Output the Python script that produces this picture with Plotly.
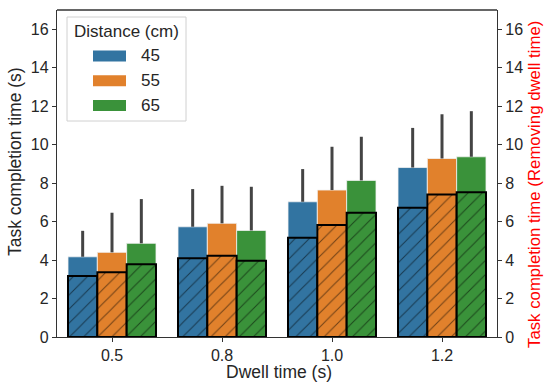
import plotly.graph_objects as go

dwell = ["0.5", "0.8", "1.0", "1.2"]
distances = ["45", "55", "65"]
colors = ["#3274a1", "#e1812c", "#3a923a"]

total_time = {
    "45": [4.17, 5.73, 7.03, 8.81],
    "55": [4.40, 5.91, 7.64, 9.28],
    "65": [4.87, 5.54, 8.14, 9.37],
}
total_err_top = {
    "45": [5.52, 7.69, 8.73, 10.87],
    "55": [6.46, 7.86, 9.89, 11.58],
    "65": [7.17, 7.81, 10.41, 11.74],
}
removed_time = {
    "45": [3.17, 4.09, 5.16, 6.72],
    "55": [3.36, 4.22, 5.82, 7.41],
    "65": [3.78, 3.96, 6.46, 7.52],
}
y_ticks = [0, 2, 4, 6, 8, 10, 12, 14, 16]

bar_w = 0.8 / 3
fig = go.Figure()
for i, d in enumerate(distances):
    off = -0.4 + i * bar_w
    fig.add_trace(go.Bar(
        x=dwell, y=total_time[d], name=d, width=bar_w, offset=off,
        marker=dict(color=colors[i], line=dict(width=0.8, color="#f2f2f2")),
        error_y=dict(type="data", symmetric=False,
                     array=[t - v for t, v in zip(total_err_top[d], total_time[d])],
                     arrayminus=[0] * len(dwell),
                     width=0, thickness=3, color="#444444"),
        showlegend=False,
    ))
for i, d in enumerate(distances):
    off = -0.4 + i * bar_w
    fig.add_trace(go.Bar(
        x=dwell, y=removed_time[d], name=d + " (removed)", width=bar_w, offset=off,
        marker=dict(color=colors[i], line=dict(width=2, color="black"),
                    pattern=dict(shape="/", fgcolor="black", bgcolor=colors[i],
                                 size=10, solidity=0.1, fillmode="overlay")),
        showlegend=False,
    ))
# invisible trace to activate right axis
fig.add_trace(go.Scatter(x=dwell, y=[None] * 4, yaxis="y2", showlegend=False, hoverinfo="skip"))

font_family = "Liberation Sans, Arial, sans-serif"
txt = "#262626"
axis_common = dict(showline=True, linecolor="#333333", linewidth=1.3, mirror=False,
                   ticks="outside", ticklen=4, tickwidth=1.2, tickcolor="#333333",
                   showgrid=False, zeroline=False,
                   tickfont=dict(size=16, color=txt, family=font_family))

fig.update_layout(
    width=550, height=387,
    margin=dict(l=57, r=53, t=10, b=50),
    plot_bgcolor="white", paper_bgcolor="white",
    barmode="overlay",
    font=dict(family=font_family, color=txt),
    xaxis=dict(**axis_common, range=[-0.5, 3.5]),
    yaxis=dict(**axis_common, range=[0, 17], tickvals=y_ticks),
    yaxis2=dict(**axis_common, range=[0, 17], overlaying="y", side="right", tickvals=y_ticks),
    showlegend=False,
)
# top spine
fig.add_shape(type="line", xref="paper", yref="paper", x0=0, x1=1, y0=1, y1=1,
              line=dict(color="#333333", width=1.3))


def px_x(p):
    return (p - 57) / 440.0


def px_y(p):
    return (337 - p) / 327.0


# axis titles
fig.add_annotation(xref="paper", yref="paper", x=px_x(279), y=px_y(372), text="Dwell time (s)",
                   showarrow=False, font=dict(size=17.5, color=txt), xanchor="center", yanchor="middle")
fig.add_annotation(xref="paper", yref="paper", x=px_x(15), y=px_y(162), text="Task completion time (s)",
                   textangle=-90, showarrow=False, font=dict(size=17.5, color=txt),
                   xanchor="center", yanchor="middle")
fig.add_annotation(xref="paper", yref="paper", x=px_x(534), y=px_y(185),
                   text="Task completion time (Removing dwell time)",
                   textangle=-90, showarrow=False, font=dict(size=16.8, color="red"),
                   xanchor="center", yanchor="middle")

# legend box (manual, to match wide patches)
fig.add_shape(type="rect", xref="paper", yref="paper",
              x0=px_x(67), x1=px_x(186), y0=px_y(121), y1=px_y(17),
              line=dict(color="#d0d0d0", width=1), fillcolor="rgba(255,255,255,0.85)", layer="above")
fig.add_annotation(xref="paper", yref="paper", x=px_x(126.5), y=px_y(32), text="Distance (cm)",
                   showarrow=False, font=dict(size=17, color=txt), xanchor="center", yanchor="middle")
for i, d in enumerate(distances):
    yc = 56 + i * 24.8
    fig.add_shape(type="rect", xref="paper", yref="paper",
                  x0=px_x(93), x1=px_x(126), y0=px_y(yc + 5.5), y1=px_y(yc - 5.5),
                  line=dict(width=0), fillcolor=colors[i], layer="above")
    fig.add_annotation(xref="paper", yref="paper", x=px_x(139), y=px_y(yc), text=d,
                       showarrow=False, font=dict(size=17, color=txt), xanchor="left", yanchor="middle")

fig.write_html("out.html", config={"displayModeBar": False},
               post_script="document.body.style.margin='0';document.body.style.padding='0';")
